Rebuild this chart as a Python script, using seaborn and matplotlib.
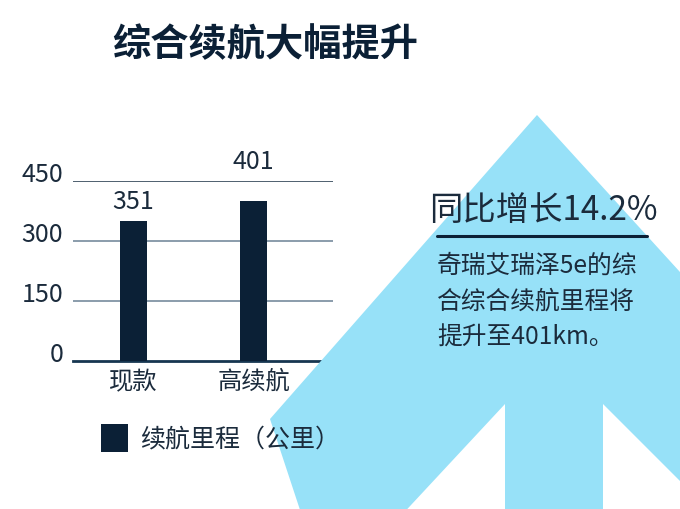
import numpy as np
import pandas as pd
import matplotlib
matplotlib.use("Agg")
import matplotlib.pyplot as plt
from matplotlib.patches import Polygon, Rectangle
import seaborn as sns

# dados do gráfico
categorias = ["现款", "高续航"]
autonomia = [351, 401]
y_ticks = [0, 150, 300, 450]
titulo = "综合续航大幅提升"
legenda = "续航里程（公里）"
destaque = "同比增长14.2%"
texto = ["奇瑞艾瑞泽5e的综", "合综合续航里程将", "提升至401km。"]

NAVY = "#0b2036"
TXT = "#1b2b3c"
AZUL = "#97e1f8"

sns.set_theme(style="white")
plt.rcParams["font.family"] = ["Noto Sans CJK SC", "DejaVu Sans"]

W, H = 680, 510
fig = plt.figure(figsize=(W / 100, H / 100), dpi=100)
fig.patch.set_facecolor("white")

# seta azul no fundo (coordenadas em pixels, y para baixo)
seta = [(537, 116), (700, 295), (700, 502), (603, 405), (603, 520), (505, 520),
        (505, 405), (398, 520), (303, 520), (270, 420)]
seta = [(x / W, 1 - y / H) for x, y in seta]
fig.patches.append(Polygon(seta, closed=True, transform=fig.transFigure,
                           facecolor=AZUL, edgecolor="none", zorder=0))

# eixo do gráfico de barras
ax = fig.add_axes([73 / W, 1 - 362 / H, 260 / W, 180 / H])
ax.set_facecolor("none")
df = pd.DataFrame({"cat": categorias, "km": autonomia})
sns.barplot(data=df, x="cat", y="km", color=NAVY, width=0.225, saturation=1,
            linewidth=0, ax=ax, zorder=3)
ax.set_xlim(-0.504, 1.6625)
ax.set_ylim(0, 450)
ax.set_yticks(y_ticks)
ax.set_xlabel("")
ax.set_ylabel("")
for s in ["top", "right", "left"]:
    ax.spines[s].set_visible(False)
ax.spines["bottom"].set_color("#163650")
ax.spines["bottom"].set_linewidth(2)
for v in y_ticks[1:]:
    cor = "#1e3448" if v == 450 else "#6b8194"
    ax.axhline(v, color=cor, lw=1.1, zorder=1)
ax.tick_params(axis="y", length=0, pad=7, labelsize=18, labelcolor=TXT)
ax.tick_params(axis="x", length=0, pad=5, labelsize=17.5, labelcolor=TXT)
# rótulos do eixo y ficam em cima da linha
for lbl in ax.get_yticklabels():
    lbl.set_fontweight("light")
    lbl.set_verticalalignment("baseline")

# rótulo de valor: acima da barra, ou acima da linha de 450 se não couber
topo = max(y_ticks)
for i, v in enumerate(autonomia):
    base = topo if v > topo - 60 else v
    ax.annotate(str(v), (i, base), xytext=(0, 5), textcoords="offset points",
                ha="center", va="bottom", fontsize=18, color=TXT,
                fontweight="light", annotation_clip=False)

# título
fig.text(112 / W, 1 - 45 / H, titulo, fontsize=27.5, fontweight="heavy",
         color=NAVY, ha="left", va="center")

# legenda
fig.patches.append(Rectangle((101 / W, 1 - 453 / H), 27 / W, 28 / H,
                             transform=fig.transFigure, facecolor=NAVY,
                             edgecolor="none"))
fig.text(140 / W, 1 - 439 / H, legenda, fontsize=18, color=TXT,
         ha="left", va="center")

# texto à direita
fig.text(429 / W, 1 - 211 / H, destaque, fontsize=24, color=TXT,
         ha="left", va="center")
fig.add_artist(plt.Line2D([437 / W, 647 / W], [1 - 237 / H, 1 - 237 / H],
                          transform=fig.transFigure, color=NAVY, lw=2.2))
for k, linha in enumerate(texto):
    fig.text(437 / W, 1 - (266 + 36 * k) / H, linha, fontsize=17.8, color=TXT,
             ha="left", va="center")

fig.savefig("out.png", dpi=100)
